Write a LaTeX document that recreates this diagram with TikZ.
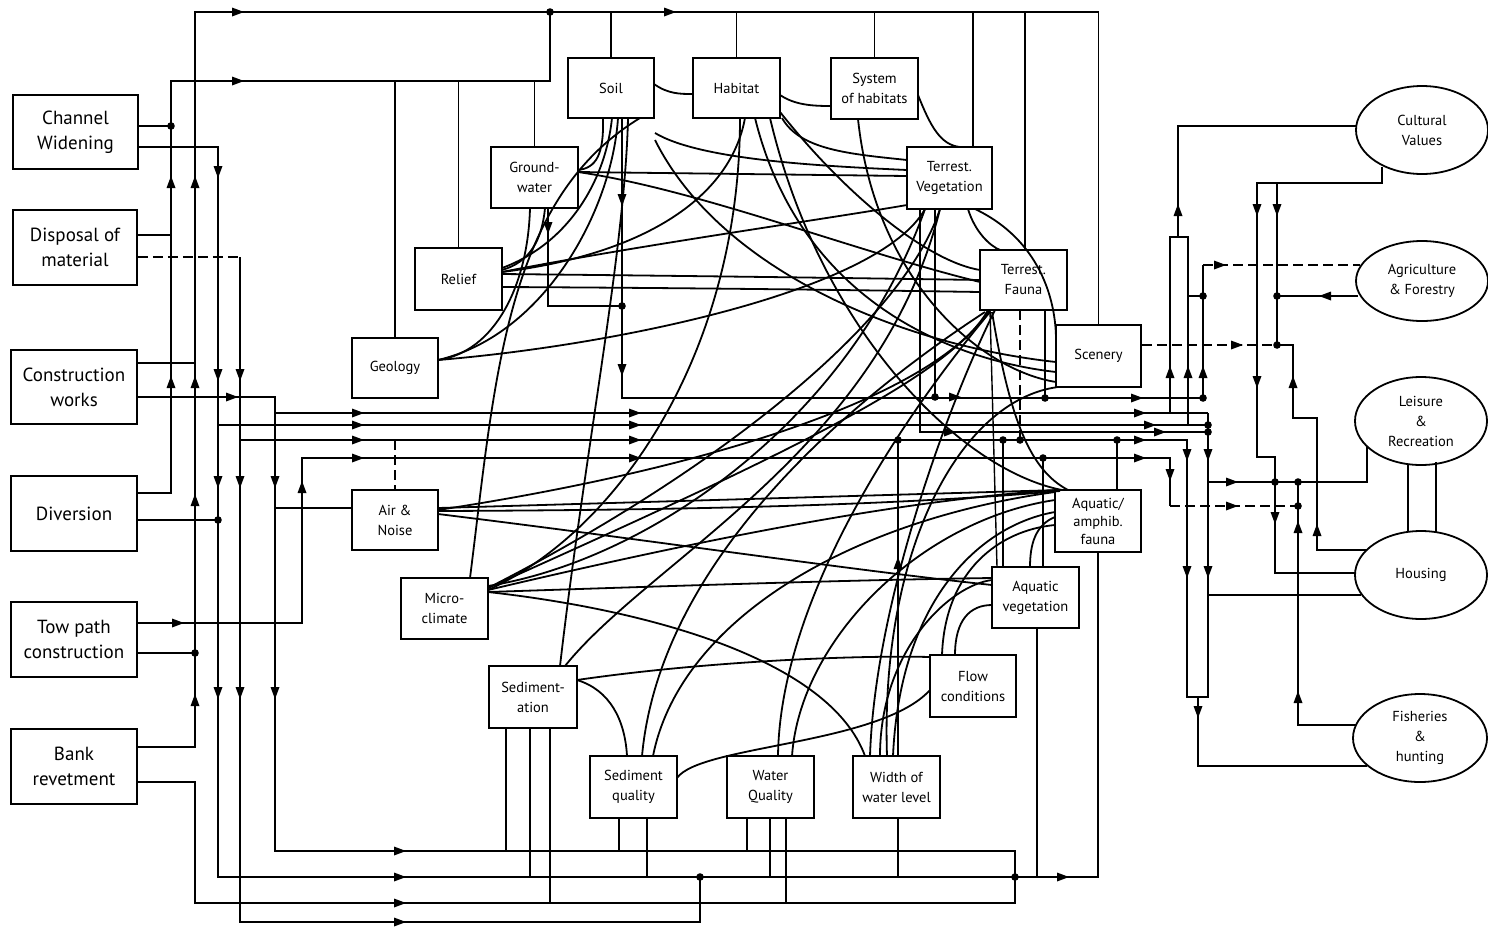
\documentclass[tikz,border=0pt]{standalone}
\usepackage{fontspec}
\setmainfont{PT Sans}
\usetikzlibrary{shapes.geometric}
\newcommand\arR[1]{\fill (#1) ++(-6,-4.5) -- ++(12,4.5) -- ++(-12,4.5) -- cycle;}
\newcommand\arL[1]{\fill (#1) ++(6,-4.5) -- ++(-12,4.5) -- ++(12,4.5) -- cycle;}
\newcommand\arU[1]{\fill (#1) ++(-4.5,6) -- ++(4.5,-12) -- ++(4.5,12) -- cycle;}
\newcommand\arD[1]{\fill (#1) ++(-4.5,-6) -- ++(4.5,12) -- ++(4.5,-12) -- cycle;}
\newcommand\jdot[1]{\fill (#1) circle (3.8pt);}
\begin{document}
\begin{tikzpicture}[x=1pt,y=-1pt,line width=1.4pt,
  box/.style={draw, line width=1.8pt, inner sep=0pt, align=center, font=\fontsize{14.5}{20}\selectfont},
  lbox/.style={box, font=\fontsize{19}{25}\selectfont},
  ell/.style={draw, ellipse, line width=1.8pt, inner sep=0pt, align=center, font=\fontsize{14.5}{20}\selectfont},
  cn/.style={line width=1.4pt},
  cvv/.style={line width=1.8pt},
  ds/.style={line width=1.4pt, dash pattern=on 10pt off 5pt}]
\fill[white] (0,0) rectangle (1488,927);
\useasboundingbox (0,0) rectangle (1488,927);

% ---------- left boxes
\node[lbox, minimum width=125, minimum height=74] (cw) at (75.5,132) {Channel\\Widening};
\node[lbox, minimum width=124, minimum height=75] (dm) at (75,247.5) {Disposal of\\material};
\node[lbox, minimum width=126, minimum height=74] (cwk) at (74,387) {Construction\\works};
\node[lbox, minimum width=126, minimum height=75] (dv) at (74,513.5) {Diversion};
\node[lbox, minimum width=126, minimum height=75] (tp) at (74,639.5) {Tow path\\construction};
\node[lbox, minimum width=126, minimum height=75] (br) at (74,766.5) {Bank\\revetment};

% ---------- inner boxes
\node[box, minimum width=86, minimum height=60] (soil) at (611,88) {Soil};
\node[box, minimum width=87, minimum height=60] (hab) at (736.5,88) {Habitat};
\node[box, minimum width=87, minimum height=61] (sys) at (874.5,88.5) {System\\of habitats};
\node[box, minimum width=87, minimum height=61] (gw) at (534.5,177.5) {Ground-\\water};
\node[box, minimum width=85, minimum height=62] (tv) at (949.5,178) {Terrest.\\Vegetation};
\node[box, minimum width=87, minimum height=62] (rel) at (458.5,279) {Relief};
\node[box, minimum width=87, minimum height=60] (tf) at (1023.5,280) {Terrest.\\Fauna};
\node[box, minimum width=86, minimum height=60] (geo) at (395,368) {Geology};
\node[box, minimum width=85, minimum height=62] (scen) at (1098.5,356) {Scenery};
\node[box, minimum width=86, minimum height=60] (air) at (395,520) {Air \&\\Noise};
\node[box, minimum width=86, minimum height=62, font=\fontsize{14.5}{18}\selectfont] (aaf) at (1098,521) {Aquatic/\\amphib.\\fauna};
\node[box, minimum width=87, minimum height=61] (mc) at (444.5,608.5) {Micro-\\climate};
\node[box, minimum width=87, minimum height=61] (av) at (1035.5,597.5) {Aquatic\\vegetation};
\node[box, minimum width=86, minimum height=62] (fc) at (973,686) {Flow\\conditions};
\node[box, minimum width=88, minimum height=62] (sed) at (533,697) {Sediment-\\ation};
\node[box, minimum width=87, minimum height=62] (sq) at (633.5,787) {Sediment\\quality};
\node[box, minimum width=87, minimum height=62] (wq) at (770.5,787) {Water\\Quality};
\node[box, minimum width=87, minimum height=62] (wwl) at (896.5,787) {Width of\\water level};

% ---------- ellipses
\node[ell, minimum width=132, minimum height=88] (cv) at (1422,130) {Cultural\\Values};
\node[ell, minimum width=132, minimum height=80] (af) at (1422,281) {Agriculture\\\& Forestry};
\node[ell, minimum width=132, minimum height=88] (lr) at (1421,421) {Leisure\\\&\\Recreation};
\node[ell, minimum width=132, minimum height=88] (ho) at (1421,575) {Housing};
\node[ell, minimum width=134, minimum height=88] (fh) at (1420,738) {Fisheries\\\&\\hunting};

% ---------- left bus
\draw[cn] (cw.east |- 0,126) -- (171,126);
\draw[cn] (dm.east |- 0,235) -- (171,235);
\draw[cn] (dv.east |- 0,493) -- (171,493) -- (171,81) -- (550,81) -- (550,12);
\draw[cn] (cwk.east |- 0,363) -- (195,363);
\draw[cn] (br.east |- 0,747) -- (195,747) -- (195,12) -- (scen.north |- 0,12) -- (scen.north);
\draw[cn] (tp.east |- 0,653) -- (195,653);
\draw[cn] (cw.east |- 0,147) -- (218,147) -- (218,877) -- (aaf.south |- 0,877) -- (aaf.south);
\draw[cn] (dv.east |- 0,520) -- (218,520);
\draw[ds] (dm.east |- 0,257) -- (240,257);
\draw[cn] (240,257) -- (240,922) -- (700,922) -- (700,877);
\draw[cn] (br.east |- 0,782) -- (195,782) -- (195,903) -- (1015,903) -- (1015,851) -- (275,851) -- (275,397) -- (cwk.east |- 0,397);
\draw[cn] (275,413) -- (1208,413);
\draw[cn] (218,425) -- (1208,425);
\draw[cn] (240,440) -- (1187,440) -- (1187,697) -- (1208,697) -- (1208,413);
\draw[cn] (tp.east |- 0,623) -- (302,623) -- (302,458) -- (1170,458) -- (1170,506);
\draw[ds] (1170,506) -- (1298,506);
\draw[cn] (air.west |- 0,508) -- (275,508);
\draw[ds] (395,440) -- (air.north);

% ---------- top
\draw[cn] (geo.north |- 0,81) -- (geo.north);
\draw[cn] (rel.north |- 0,81) -- (rel.north);
\draw[cn] (gw.north |- 0,81) -- (gw.north);
\draw[cn] (soil.north |- 0,12) -- (soil.north);
\draw[cn] (hab.north |- 0,12) -- (hab.north);
\draw[cn] (sys.north |- 0,12) -- (sys.north);
\draw[cn] (973,12) -- (973,147);
\draw[cn] (1025,12) -- (1025,250);
\draw[cn] (548,208) -- (548,306) -- (622,306);
\draw[cn] (622,118) -- (622,398) -- (1203,398) -- (1203,265);

% ---------- right bus
\draw[ds] (1203,265) -- (1360,265);
\draw[cn] (1188,296) -- (1203,296);
\draw[cn] (1358,296) -- (1277,296);
\draw[cn] (1382,167) -- (1382,183) -- (1257,183) -- (1257,457) -- (1275,457) -- (1275,573) -- (1356,573);
\draw[cn] (1277,183) -- (1277,345) -- (1293,345) -- (1293,418) -- (1317,418) -- (1317,550) -- (1366,550);
\draw[ds] (scen.east |- 0,345) -- (1277,345);
\draw[cn] (1357,126) -- (1178,126) -- (1178,237);
\draw[cn] (1170,413) -- (1170,237) -- (1188,237) -- (1188,425);
\draw[cn] (1198,697) -- (1198,766) -- (1367,766);
\draw[cn] (1208,482) -- (1367,482) -- (1367,447);
\draw[cn] (1298,482) -- (1298,725) -- (1356,725);
\draw[cn] (1361,595) -- (1208,595);
\draw[cn] (1408,465) -- (1408,531);
\draw[cn] (1436,462) -- (1436,533);
\draw[cn] (920,209) -- (920,432) -- (1208,432);

% ---------- verticals to bus
\draw[cn] (1045,310) -- (1045,398);
\draw[ds] (1020,310) -- (1020,440);
\draw[cn] (935,209) -- (935,397);
\draw[cn] (898,440) -- (898,756);
\draw[cn] (1003,440) -- (1003,567);
\draw[cn] (1117,440) -- (1117,490);
\draw[cn] (1043,458) -- (1043,567);
\draw[cn] (1037,628) -- (1037,877);
\draw[cn] (990,310) -- (997,567);

% ---------- bottom verticals
\draw[cn] (506,728) -- (506,851);
\draw[cn] (530,728) -- (530,877);
\draw[cn] (550,728) -- (550,903);
\draw[cn] (619,818) -- (619,851);
\draw[cn] (647,818) -- (647,877);
\draw[cn] (747,818) -- (747,851);
\draw[cn] (770,818) -- (770,877);
\draw[cn] (786,818) -- (786,903);
\draw[cn] (898,818) -- (898,877);

% ---------- curves
\draw[cvv] (654,84) .. controls (668,94) and (680,94) .. (693,94);
\draw[cvv] (603,118) .. controls (604,155) and (596,168) .. (578,170);
\draw[cvv] (780,95) .. controls (795,105) and (812,106) .. (831,106);
\draw[cvv] (918,95) .. controls (930,125) and (940,145) .. (960,147);
\draw[cvv] (782,118) .. controls (800,150) and (850,154) .. (907,160);
\draw[cvv] (655,133) .. controls (700,160) and (820,166) .. (907,170);
\draw[cvv] (578,172) -- (907,176);
\draw[cvv] (578,172) .. controls (700,190) and (850,250) .. (980,282);
\draw[cvv] (502,272) .. controls (640,245) and (820,220) .. (907,205);
\draw[cvv] (502,274) .. controls (700,276) and (850,278) .. (980,280);
\draw[cvv] (502,287) .. controls (700,288) and (850,290) .. (980,292);
\draw[cvv] (502,270) .. controls (530,262) and (542,240) .. (545,208);
\draw[cvv] (502,268) .. controls (565,245) and (605,185) .. (612,118);
\draw[cvv] (502,272) .. controls (640,255) and (730,200) .. (745,118);
\draw[cvv] (438,360) .. controls (495,352) and (528,285) .. (530,208);
\draw[cvv] (438,360) .. controls (545,335) and (612,210) .. (618,118);
\draw[cvv] (438,360) .. controls (620,345) and (880,290) .. (925,209);
\draw[cvv] (470,578) .. controls (495,380) and (505,200) .. (640,118);
\draw[cvv] (560,666) .. controls (585,450) and (625,250) .. (628,118);
\draw[cvv] (740,118) .. controls (740,350) and (620,530) .. (488,590);
\draw[cvv] (755,118) .. controls (800,300) and (950,360) .. (1056,372);
\draw[cvv] (770,118) .. controls (820,330) and (960,470) .. (1062,490);
\draw[cvv] (780,112) .. controls (850,200) and (930,262) .. (980,270);
\draw[cvv] (655,140) .. controls (720,270) and (900,345) .. (1056,362);
\draw[cvv] (858,119) .. controls (875,280) and (980,370) .. (1056,382);
\draw[cvv] (925,209) .. controls (850,420) and (650,560) .. (488,586);
\draw[cvv] (940,209) .. controls (880,450) and (650,560) .. (565,666);
\draw[cvv] (642,756) .. controls (660,560) and (850,400) .. (985,312);
\draw[cvv] (653,756) .. controls (680,620) and (850,520) .. (1055,492);
\draw[cvv] (778,756) .. controls (780,600) and (900,420) .. (990,312);
\draw[cvv] (792,756) .. controls (800,640) and (920,520) .. (1055,500);
\draw[cvv] (880,756) .. controls (880,650) and (950,585) .. (992,580);
\draw[cvv] (893,756) .. controls (900,600) and (980,525) .. (1055,512);
\draw[cvv] (870,756) .. controls (875,600) and (950,400) .. (995,310);
\draw[cvv] (488,592) .. controls (650,610) and (830,660) .. (865,756);
\draw[cvv] (577,680) .. controls (700,662) and (850,655) .. (930,657);
\draw[cvv] (577,680) .. controls (610,690) and (625,720) .. (627,756);
\draw[cvv] (677,778) .. controls (700,745) and (880,745) .. (930,690);
\draw[cvv] (955,655) .. controls (955,620) and (970,605) .. (992,605);
\draw[cvv] (942,655) .. controls (945,570) and (1000,530) .. (1055,525);
\draw[cvv] (1055,517) .. controls (1035,525) and (1030,545) .. (1030,567);
\draw[cvv] (438,508) -- (1060,490);
\draw[cvv] (438,511) .. controls (700,510) and (900,505) .. (1060,491);
\draw[cvv] (438,514) .. controls (650,540) and (850,570) .. (992,585);
\draw[cvv] (488,590) .. controls (700,540) and (900,500) .. (1058,490);
\draw[cvv] (488,592) .. controls (700,585) and (850,580) .. (992,578);
\draw[cvv] (488,588) .. controls (700,480) and (900,330) .. (940,209);
\draw[cvv] (488,588) .. controls (750,470) and (950,380) .. (988,310);
\draw[cvv] (438,510) .. controls (700,470) and (930,400) .. (990,310);
\draw[cvv] (975,209) .. controls (1040,240) and (1056,300) .. (1056,340);
\draw[cvv] (968,209) .. controls (975,232) and (990,246) .. (1000,250);
\draw[cvv] (992,312) .. controls (1010,420) and (1030,470) .. (1068,490);
\draw[cvv] (1058,387) .. controls (960,400) and (880,550) .. (887,756);

% ---------- junction dots
\foreach \p in {{171,126},{195,653},{218,520},{550,12},{622,306},{700,877},{1015,877},
  {1203,398},{1203,296},{1208,425},{1208,432},{1277,296},{1277,345},{1275,482},{1298,482},
  {1298,506},{935,397},{1045,398},{898,440},{1003,440},{1020,440},{1117,440},{1043,458}}
  {\jdot{\p}}

% ---------- arrowheads
\foreach \p in {{238,12},{670,12},{238,81},{232,397},{358,413},{358,425},{358,440},{358,458},
  {635,413},{635,425},{635,440},{635,458},{178,623},{400,851},{400,877},{400,903},{400,922},
  {1063,877},{1137,398},{1140,413},{1150,425},{1160,432},{1140,440},{1140,458},{1220,265},
  {1232,482},{1232,506},{1237,345},{950,432},{955,397}}
  {\arR{\p}}
\arL{1325,296}
\foreach \p in {{171,182},{171,382},{195,182},{195,382},{195,500},{195,700},{302,487},
  {1178,210},{1170,372},{1188,372},{1203,372},{1293,382},{1317,530},{1298,527},{1298,697},{898,563}}
  {\arU{\p}}
\foreach \p in {{218,172},{218,375},{218,482},{218,693},{240,375},{240,482},{240,693},
  {275,482},{275,693},{548,228},{622,200},{622,370},{1187,455},{1208,455},{1187,572},{1208,572},
  {1170,475},{1198,712},{1257,210},{1257,382},{1277,210},{1275,518}}
  {\arD{\p}}
\end{tikzpicture}
\end{document}
